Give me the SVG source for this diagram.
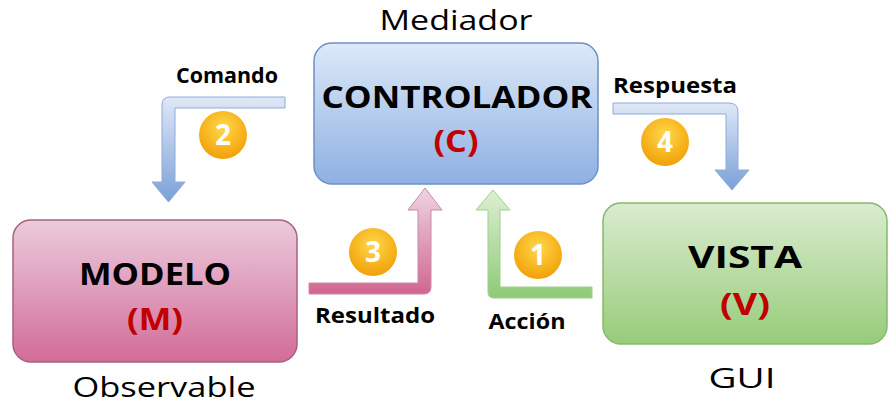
<svg xmlns="http://www.w3.org/2000/svg" width="895" height="411" viewBox="0 0 895 411">
<style>
.t{font-family:"Open Sans","DejaVu Sans",sans-serif;fill:#000}
.big{font-size:31px;font-weight:bold}
.let{font-size:31px;font-weight:bold;fill:#c00000}
.lbl{font-size:22px;font-weight:bold}
.cap{font-size:27px}
.num{font-family:"Open Sans","DejaVu Sans",sans-serif;font-size:28px;font-weight:bold;fill:#fff}
</style>
<defs>
<linearGradient id="gC" x1="0" y1="0" x2="0" y2="1"><stop offset="0" stop-color="#dde9f8"/><stop offset="1" stop-color="#8eb0e2"/></linearGradient>
<linearGradient id="gM" x1="0" y1="0" x2="0" y2="1"><stop offset="0" stop-color="#ebcbdc"/><stop offset="1" stop-color="#d36c99"/></linearGradient>
<linearGradient id="gV" x1="0" y1="0" x2="0" y2="1"><stop offset="0" stop-color="#daeccf"/><stop offset="1" stop-color="#96cc7a"/></linearGradient>
<linearGradient id="a2" gradientUnits="userSpaceOnUse" x1="0" y1="97" x2="0" y2="202"><stop offset="0" stop-color="#dfe8f6"/><stop offset="1" stop-color="#7ba0d8"/></linearGradient>
<linearGradient id="a4" gradientUnits="userSpaceOnUse" x1="0" y1="103" x2="0" y2="190"><stop offset="0" stop-color="#dfe8f6"/><stop offset="1" stop-color="#7ba0d8"/></linearGradient>
<linearGradient id="a3" gradientUnits="userSpaceOnUse" x1="0" y1="188" x2="0" y2="294"><stop offset="0" stop-color="#eed5e3"/><stop offset="1" stop-color="#d0668f"/></linearGradient>
<linearGradient id="a1" gradientUnits="userSpaceOnUse" x1="0" y1="190" x2="0" y2="298"><stop offset="0" stop-color="#ddefd4"/><stop offset="1" stop-color="#8fca77"/></linearGradient>
<radialGradient id="gO" cx="0.5" cy="0.35" r="0.65"><stop offset="0" stop-color="#ffd84a"/><stop offset="1" stop-color="#f2a007"/></radialGradient>
</defs>

<g id="connectors">
<g id="arrow-comando">
<path d="M285,97 L170,97 Q162,97 162,105 L162,182 L152,182 L168.5,202 L185,182 L175,182 L175,108 L285,108 Z" fill="url(#a2)" stroke="#8eaadb" stroke-width="1"/>
<text class="t lbl" x="227" y="83" text-anchor="middle" textLength="102" lengthAdjust="spacingAndGlyphs">Comando</text>
<circle cx="223" cy="135" r="24" fill="url(#gO)"/>
<text class="num" x="223" y="145" text-anchor="middle">2</text>
</g>
<g id="arrow-respuesta">
<path d="M613,103 L729,103 Q738,103 738,112 L738,170 L749,170 L732,190 L715,170 L726,170 L726,114 L613,114 Z" fill="url(#a4)" stroke="#8eaadb" stroke-width="1"/>
<text class="t lbl" x="675" y="93" text-anchor="middle" textLength="124" lengthAdjust="spacingAndGlyphs">Respuesta</text>
<circle cx="665" cy="142" r="24" fill="url(#gO)"/>
<text class="num" x="665" y="152" text-anchor="middle">4</text>
</g>
<g id="arrow-resultado">
<path d="M309,283 L418,283 L418,210 L408,210 L425,188 L442,210 L431,210 L431,287 Q431,294 424,294 L309,294 Z" fill="url(#a3)" stroke="#c98aa8" stroke-width="1"/>
<text class="t lbl" x="375" y="323" text-anchor="middle" textLength="120" lengthAdjust="spacingAndGlyphs">Resultado</text>
<circle cx="373" cy="252" r="24" fill="url(#gO)"/>
<text class="num" x="373" y="262" text-anchor="middle">3</text>
</g>
<g id="arrow-accion">
<path d="M592,287 L500,287 L500,210 L510,210 L493,190 L476,210 L488,210 L488,292 Q488,298 494,298 L592,298 Z" fill="url(#a1)" stroke="#9fcf8a" stroke-width="1"/>
<text class="t lbl" x="527" y="329" text-anchor="middle" textLength="77" lengthAdjust="spacingAndGlyphs">Acción</text>
<circle cx="538" cy="255" r="24" fill="url(#gO)"/>
<text class="num" x="538" y="265" text-anchor="middle">1</text>
</g>
</g>

<g id="controlador">
<text class="t cap" x="456" y="30" text-anchor="middle" textLength="153" lengthAdjust="spacingAndGlyphs">Mediador</text>
<rect x="314" y="43" width="284" height="141" rx="18" fill="url(#gC)" stroke="#6e90c8" stroke-width="1.5"/>
<text class="t big" x="457" y="108" text-anchor="middle" textLength="271" lengthAdjust="spacingAndGlyphs">CONTROLADOR</text>
<text class="t let" x="456" y="152" text-anchor="middle" textLength="45" lengthAdjust="spacingAndGlyphs">(C)</text>
</g>

<g id="modelo">
<rect x="13" y="220" width="284" height="142" rx="18" fill="url(#gM)" stroke="#a9607f" stroke-width="1.5"/>
<text class="t big" x="155" y="285" text-anchor="middle" textLength="152" lengthAdjust="spacingAndGlyphs">MODELO</text>
<text class="t let" x="155" y="330" text-anchor="middle" textLength="56" lengthAdjust="spacingAndGlyphs">(M)</text>
<text class="t cap" x="164" y="397" text-anchor="middle" textLength="183" lengthAdjust="spacingAndGlyphs">Observable</text>
</g>

<g id="vista">
<rect x="603" y="203" width="284" height="141" rx="18" fill="url(#gV)" stroke="#86b86e" stroke-width="1.5"/>
<text class="t big" x="745" y="268" text-anchor="middle" textLength="114" lengthAdjust="spacingAndGlyphs">VISTA</text>
<text class="t let" x="745" y="315" text-anchor="middle" textLength="50" lengthAdjust="spacingAndGlyphs">(V)</text>
<text class="t cap" x="742" y="388" text-anchor="middle" textLength="67" lengthAdjust="spacingAndGlyphs">GUI</text>
</g>
</svg>
